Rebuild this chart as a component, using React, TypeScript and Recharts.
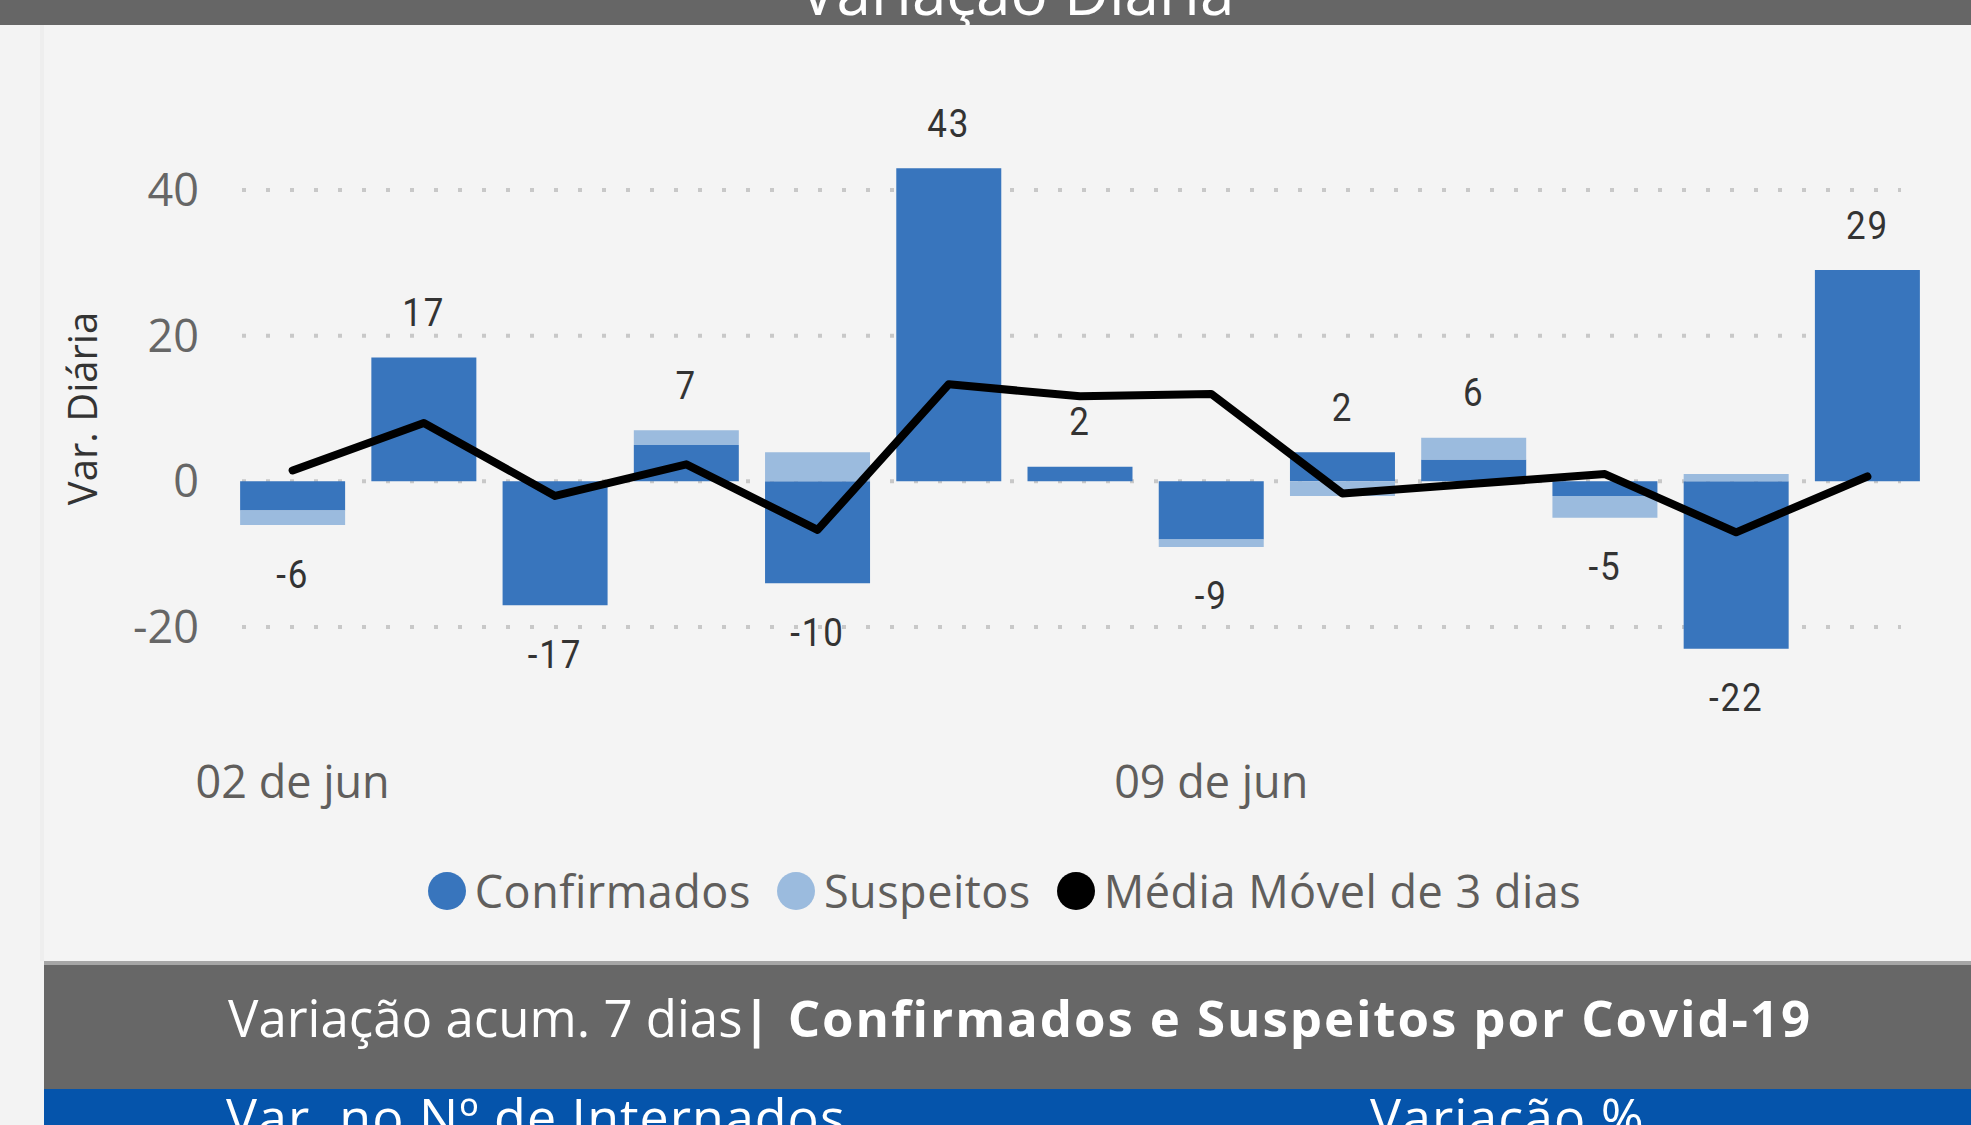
import {
  ComposedChart,
  Bar,
  Line,
  XAxis,
  YAxis,
  CartesianGrid,
  Legend,
  LabelList,
} from "recharts";

const dates = [
  "02 de jun", "03 de jun", "04 de jun", "05 de jun", "06 de jun", "07 de jun", "08 de jun",
  "09 de jun", "10 de jun", "11 de jun", "12 de jun", "13 de jun", "14 de jun",
];
const confirmados = [-4, 17, -17, 5, -14, 43, 2, -8, 4, 3, -2, -23, 29];
const suspeitos = [-2, 0, 0, 2, 4, 0, 0, -1, -2, 3, -3, 1, 0];
const mediaMovel = [1.5, 8, -2, 2.33, -6.67, 13.33, 11.67, 12, -1.67, -0.33, 1, -7, 0.67];
const yTicks = [-20, 0, 20, 40];
const legendOrder = ["Confirmados", "Suspeitos", "Média Móvel de 3 dias"];

const BLUE = "#3875bd";
const LIGHT = "#9bbbde";
const SANS = "'Open Sans', 'Noto Sans', sans-serif";

const data = dates.map((d, i) => {
  const c = confirmados[i];
  const s = suspeitos[i];
  const total = c + s;
  const pos = Math.max(c, 0) + Math.max(s, 0);
  const neg = Math.min(c, 0) + Math.min(s, 0);
  return { date: d, confirmados: c, suspeitos: s, media: mediaMovel[i], total, anchor: total >= 0 ? pos : neg };
});

// value labels sit above the stack for positive totals, below it for negative ones
function TotalLabel(p: any) {
  const v = data[p.index].total;
  const cy = v >= 0 ? p.y - 45 : p.y + 49;
  return (
    <text
      transform={`translate(${p.x}, ${cy + 13.5}) scale(0.92, 1)`}
      textAnchor="middle"
      fontFamily="Roboto, sans-serif"
      fontSize={38}
      letterSpacing={2}
      fill="#333"
    >
      {v}
    </text>
  );
}

function GridDots(p: any) {
  // skip the lines on the plot edges, keep only the tick lines
  if (typeof p.y === "number" && typeof p.height === "number") {
    if (Math.abs(p.y1 - p.y) < 0.5 || Math.abs(p.y1 - (p.y + p.height)) < 0.5) {
      return <g key={`grid-${p.index}`} />;
    }
  }
  return (
    <line
      key={`grid-${p.index}`}
      x1={p.x1 + 15}
      x2={p.x2 - 32}
      y1={p.y1}
      y2={p.y2}
      stroke="#c8c8c8"
      strokeWidth={4}
      strokeDasharray="4 20"
    />
  );
}

function YTitle(p: any) {
  const vb = p.viewBox;
  const x = vb.x + 17;
  const y = vb.y + vb.height / 2;
  return (
    <text x={x} y={y} transform={`rotate(-90, ${x}, ${y})`} textAnchor="middle" dominantBaseline="central"
      fontFamily={SANS} fontSize={40} fill="#333">
      Var. Diária
    </text>
  );
}

function LegendContent(p: any) {
  const items = (p.payload || [])
    .filter((e: any) => e.type !== "none" && legendOrder.includes(e.value))
    .sort((a: any, b: any) => legendOrder.indexOf(a.value) - legendOrder.indexOf(b.value));
  return (
    <div style={{ display: "flex", justifyContent: "center", alignItems: "center", height: 60, fontFamily: SANS, fontSize: 45, color: "#605e5c", lineHeight: "60px", paddingLeft: 20 }}>
      {items.map((e: any) => (
        <div key={e.value} style={{ display: "flex", alignItems: "center", marginRight: 26 }}>
          <span style={{ width: 38, height: 38, borderRadius: 19, background: e.color, marginRight: 9, display: "inline-block" }} />
          <span style={{ letterSpacing: 0.5 }}>{e.value}</span>
        </div>
      ))}
    </div>
  );
}

export default function App() {
  return (
    <div style={{ position: "absolute", left: 0, top: 0, width: 1971, height: 1125, overflow: "hidden", background: "#f3f3f3" }}>
      <div style={{ position: "absolute", left: 40, top: 0, width: 4, height: 961, background: "#eeeeee" }} />
      <div style={{ position: "absolute", left: 44, top: 0, width: 1927, height: 961, background: "#f4f4f4" }} />
      <svg style={{ position: "absolute", left: 0, top: 0 }} width={1971} height={25}>
        <rect x={0} y={0} width={1971} height={25} fill="#666666" />
        <text x={1017} y={15} textAnchor="middle" fontFamily={SANS} fontSize={62} fill="#fff">
          Variação Diária
        </text>
      </svg>
      <div style={{ position: "absolute", left: 44, top: 25 }}>
        <ComposedChart
          width={1927}
          height={936}
          data={data}
          stackOffset="sign"
          barCategoryGap="10%"
          margin={{ top: 92.15, right: 38, bottom: 111.15, left: 20 }}
        >
          <CartesianGrid vertical={false} horizontal={GridDots} syncWithTicks />
          <XAxis
            dataKey="date"
            interval={6}
            axisLine={false}
            tickLine={false}
            tickSize={0}
            tickMargin={66}
            height={150}
            tick={{ fill: "#605e5c", fontSize: 45, fontFamily: SANS }}
          />
          <YAxis
            domain={[-30, 50]}
            ticks={yTicks}
            allowDataOverflow
            axisLine={false}
            tickLine={false}
            tickSize={0}
            tickMargin={28}
            width={163}
            tick={{ fill: "#666", fontSize: 45, fontFamily: SANS }}
            label={<YTitle />}
          />
          <Legend
            verticalAlign="middle"
            align="center"
            content={<LegendContent />}
            wrapperStyle={{ top: 836, left: 0, width: 1927, height: 60 }}
          />
          <Bar dataKey="confirmados" name="Confirmados" stackId="a" fill={BLUE} isAnimationActive={false} />
          <Bar dataKey="suspeitos" name="Suspeitos" stackId="a" fill={LIGHT} isAnimationActive={false} />
          <Line
            dataKey="media"
            name="Média Móvel de 3 dias"
            type="linear"
            stroke="#000"
            strokeWidth={8}
            strokeLinecap="round"
            strokeLinejoin="round"
            dot={false}
            activeDot={false}
            isAnimationActive={false}
          />
          <Line
            dataKey="anchor"
            stroke="none"
            dot={false}
            activeDot={false}
            legendType="none"
            isAnimationActive={false}
          >
            <LabelList dataKey="total" content={<TotalLabel />} />
          </Line>
        </ComposedChart>
      </div>
      <svg style={{ position: "absolute", left: 0, top: 961 }} width={1971} height={164}>
        <rect x={44} y={0} width={1927} height={4} fill="#a6a6a6" />
        <rect x={44} y={4} width={1927} height={124} fill="#676767" />
        <rect x={44} y={128} width={1927} height={36} fill="#0554ab" />
        <text x={1020} y={76} textAnchor="middle" fontFamily={SANS} fontSize={51} fill="#fff">
          Variação acum. 7 dias<tspan fontWeight={700} letterSpacing={1.9}>| Confirmados e Suspeitos por Covid-19</tspan>
        </text>
        <text x={226} y={175} fontFamily={SANS} fontSize={52} letterSpacing={1} fill="#fff">Var. no Nº de Internados</text>
        <text x={1370} y={175} fontFamily={SANS} fontSize={52} letterSpacing={1} fill="#fff">Variação %</text>
      </svg>
    </div>
  );
}
